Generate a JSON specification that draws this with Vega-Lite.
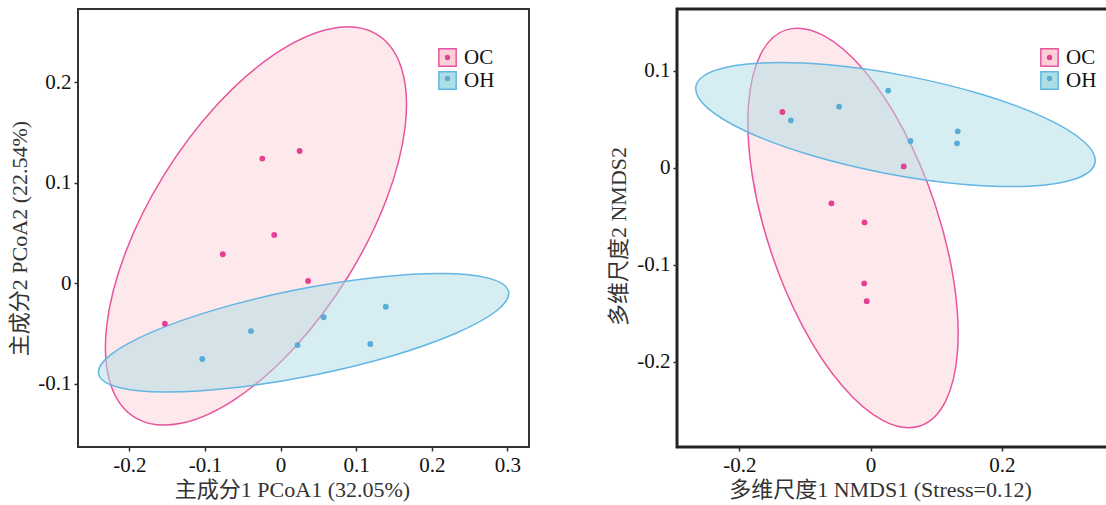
{
  "$schema": "https://vega.github.io/schema/vega-lite/v6.json",
  "background": "white",
  "padding": {"left": 7, "top": 7, "right": 0, "bottom": 0},
  "spacing": 76,
  "config": {
    "font": "Liberation Serif, Noto Sans CJK SC",
    "view": {"stroke": "#333333", "strokeWidth": 2},
    "axis": {
      "grid": false, "domain": false, "ticks": true, "tickSize": 4, "tickWidth": 1.5, "tickColor": "#333333",
      "labelFont": "Liberation Serif", "labelFontSize": 21, "labelColor": "#111111", "labelPadding": 3,
      "titleFont": "Liberation Serif, Noto Sans CJK SC", "titleFontSize": 22, "titleFontWeight": "normal", "titleColor": "#333333"
    }
  },
  "datasets": {
    "pcoa_pts": [
      {"group": "OC", "x": -0.0242, "y": 0.124},
      {"group": "OC", "x": 0.0252, "y": 0.1316},
      {"group": "OC", "x": -0.0084, "y": 0.0481},
      {"group": "OC", "x": -0.0765, "y": 0.0289},
      {"group": "OC", "x": 0.0364, "y": 0.0023},
      {"group": "OC", "x": -0.1531, "y": -0.0402},
      {"group": "OH", "x": -0.1036, "y": -0.0753},
      {"group": "OH", "x": -0.0392, "y": -0.0475},
      {"group": "OH", "x": 0.0224, "y": -0.0614},
      {"group": "OH", "x": 0.057, "y": -0.0338},
      {"group": "OH", "x": 0.1392, "y": -0.0233},
      {"group": "OH", "x": 0.1186, "y": -0.0604}
    ],
    "pcoa_ell": [
      {"group": "OC", "i": 0, "x": 0.125, "y": 0.2485},
      {"group": "OC", "i": 1, "x": 0.0664, "y": 0.2532},
      {"group": "OC", "i": 2, "x": -0.0073, "y": 0.2281},
      {"group": "OC", "i": 3, "x": -0.0847, "y": 0.177},
      {"group": "OC", "i": 4, "x": -0.1543, "y": 0.1075},
      {"group": "OC", "i": 5, "x": -0.2053, "y": 0.0304},
      {"group": "OC", "i": 6, "x": -0.2301, "y": -0.0427},
      {"group": "OC", "i": 7, "x": -0.2248, "y": -0.1006},
      {"group": "OC", "i": 8, "x": -0.1902, "y": -0.1345},
      {"group": "OC", "i": 9, "x": -0.1316, "y": -0.1392},
      {"group": "OC", "i": 10, "x": -0.0579, "y": -0.1141},
      {"group": "OC", "i": 11, "x": 0.0195, "y": -0.063},
      {"group": "OC", "i": 12, "x": 0.0891, "y": 0.0065},
      {"group": "OC", "i": 13, "x": 0.1401, "y": 0.0836},
      {"group": "OC", "i": 14, "x": 0.1649, "y": 0.1567},
      {"group": "OC", "i": 15, "x": 0.1596, "y": 0.2146},
      {"group": "OH", "i": 0, "x": 0.3015, "y": -0.0081},
      {"group": "OH", "i": 1, "x": 0.276, "y": 0.0049},
      {"group": "OH", "i": 2, "x": 0.2131, "y": 0.0097},
      {"group": "OH", "i": 3, "x": 0.1225, "y": 0.0055},
      {"group": "OH", "i": 4, "x": 0.0177, "y": -0.007},
      {"group": "OH", "i": 5, "x": -0.0851, "y": -0.0259},
      {"group": "OH", "i": 6, "x": -0.1703, "y": -0.0485},
      {"group": "OH", "i": 7, "x": -0.225, "y": -0.0711},
      {"group": "OH", "i": 8, "x": -0.2407, "y": -0.0903},
      {"group": "OH", "i": 9, "x": -0.2152, "y": -0.1033},
      {"group": "OH", "i": 10, "x": -0.1523, "y": -0.1081},
      {"group": "OH", "i": 11, "x": -0.0617, "y": -0.1039},
      {"group": "OH", "i": 12, "x": 0.0431, "y": -0.0914},
      {"group": "OH", "i": 13, "x": 0.1459, "y": -0.0725},
      {"group": "OH", "i": 14, "x": 0.2311, "y": -0.0499},
      {"group": "OH", "i": 15, "x": 0.2858, "y": -0.0273}
    ],
    "nmds_pts": [
      {"group": "OC", "x": -0.1344, "y": 0.0574},
      {"group": "OC", "x": 0.0505, "y": 0.0013},
      {"group": "OC", "x": -0.0597, "y": -0.0368},
      {"group": "OC", "x": -0.0092, "y": -0.0565},
      {"group": "OC", "x": -0.0097, "y": -0.1194},
      {"group": "OC", "x": -0.0059, "y": -0.1377},
      {"group": "OH", "x": -0.1215, "y": 0.0488},
      {"group": "OH", "x": -0.0479, "y": 0.0629},
      {"group": "OH", "x": 0.0269, "y": 0.0795},
      {"group": "OH", "x": 0.0608, "y": 0.0275},
      {"group": "OH", "x": 0.1328, "y": 0.0375},
      {"group": "OH", "x": 0.1317, "y": 0.0251}
    ],
    "nmds_ell": [
      {"group": "OC", "i": 0, "x": -0.1274, "y": 0.1424},
      {"group": "OC", "i": 1, "x": -0.1674, "y": 0.1172},
      {"group": "OC", "i": 2, "x": -0.1861, "y": 0.0648},
      {"group": "OC", "i": 3, "x": -0.1805, "y": -0.0071},
      {"group": "OC", "i": 4, "x": -0.1515, "y": -0.0873},
      {"group": "OC", "i": 5, "x": -0.1035, "y": -0.1637},
      {"group": "OC", "i": 6, "x": -0.0439, "y": -0.2246},
      {"group": "OC", "i": 7, "x": 0.0184, "y": -0.2608},
      {"group": "OC", "i": 8, "x": 0.0738, "y": -0.2668},
      {"group": "OC", "i": 9, "x": 0.1138, "y": -0.2416},
      {"group": "OC", "i": 10, "x": 0.1325, "y": -0.1892},
      {"group": "OC", "i": 11, "x": 0.1269, "y": -0.1173},
      {"group": "OC", "i": 12, "x": 0.0979, "y": -0.0371},
      {"group": "OC", "i": 13, "x": 0.0499, "y": 0.0393},
      {"group": "OC", "i": 14, "x": -0.0097, "y": 0.1002},
      {"group": "OC", "i": 15, "x": -0.072, "y": 0.1364},
      {"group": "OH", "i": 0, "x": 0.3419, "y": 0.0048},
      {"group": "OH", "i": 1, "x": 0.3249, "y": 0.027},
      {"group": "OH", "i": 2, "x": 0.2642, "y": 0.0519},
      {"group": "OH", "i": 3, "x": 0.169, "y": 0.0757},
      {"group": "OH", "i": 4, "x": 0.0539, "y": 0.0947},
      {"group": "OH", "i": 5, "x": -0.0636, "y": 0.1061},
      {"group": "OH", "i": 6, "x": -0.1658, "y": 0.1081},
      {"group": "OH", "i": 7, "x": -0.2369, "y": 0.1004},
      {"group": "OH", "i": 8, "x": -0.2661, "y": 0.0842},
      {"group": "OH", "i": 9, "x": -0.2491, "y": 0.062},
      {"group": "OH", "i": 10, "x": -0.1884, "y": 0.0371},
      {"group": "OH", "i": 11, "x": -0.0932, "y": 0.0133},
      {"group": "OH", "i": 12, "x": 0.0219, "y": -0.0057},
      {"group": "OH", "i": 13, "x": 0.1394, "y": -0.0171},
      {"group": "OH", "i": 14, "x": 0.2416, "y": -0.0191},
      {"group": "OH", "i": 15, "x": 0.3127, "y": -0.0114}
    ]
  },
  "hconcat": [
    {
      "width": 451,
      "height": 438,
      "layer": [
        {
          "data": {"name": "pcoa_ell"},
          "mark": {"type": "line", "interpolate": "cardinal-closed", "strokeWidth": 1.5, "fillOpacity": 0.5},
          "encoding": {
            "x": {"field": "x", "type": "quantitative", "scale": {"domain": [-0.268, 0.3286], "nice": false, "zero": false},
              "axis": {"values": [-0.2, -0.1, 0, 0.1, 0.2, 0.3], "labelExpr": "toString(datum.value)", "title": "主成分1 PCoA1 (32.05%)", "titleX": 214, "titlePadding": 4}},
            "y": {"field": "y", "type": "quantitative", "scale": {"domain": [-0.1628, 0.2728], "nice": false, "zero": false},
              "axis": {"values": [-0.1, 0, 0.1, 0.2], "labelExpr": "toString(datum.value)", "title": "主成分2 PCoA2 (22.54%)", "titleY": 229, "titlePadding": 6}},
            "order": {"field": "i", "type": "quantitative"},
            "fill": {"field": "group", "type": "nominal", "scale": {"range": ["#fbd1d7", "#addde5"]},
              "legend": {"orient": "none", "legendX": 359, "legendY": 38, "title": null, "symbolType": "square", "symbolSize": 300, "symbolStrokeWidth": 1.5, "labelFont": "Liberation Serif", "labelFontSize": 21, "labelColor": "#111111", "labelOffset": 6, "rowPadding": -6}},
            "stroke": {"field": "group", "type": "nominal", "scale": {"range": ["#e8559f", "#63b6e3"]},
              "legend": {"orient": "none", "legendX": 359, "legendY": 38, "title": null, "symbolType": "square", "symbolSize": 300, "symbolStrokeWidth": 1.5, "labelFont": "Liberation Serif", "labelFontSize": 21, "labelColor": "#111111", "labelOffset": 6, "rowPadding": -6}}
          }
        },
        {
          "data": {"name": "pcoa_pts"},
          "mark": {"type": "circle", "size": 34, "opacity": 1},
          "encoding": {
            "x": {"field": "x", "type": "quantitative"},
            "y": {"field": "y", "type": "quantitative"},
            "color": {"field": "group", "type": "nominal", "scale": {"domain": ["OC", "OH"], "range": ["#e44091", "#58acd6"]},
              "legend": {"orient": "none", "legendX": 359, "legendY": 38, "title": null, "symbolType": "circle", "symbolSize": 28, "labelFont": "Liberation Serif", "labelFontSize": 21, "labelExpr": "''", "rowPadding": -6}}
          }
        }
      ]
    },
    {
      "width": 440,
      "height": 438,
      "view": {"stroke": "#222222", "strokeWidth": 3},
      "layer": [
        {
          "data": {"name": "nmds_ell"},
          "mark": {"type": "line", "interpolate": "cardinal-closed", "strokeWidth": 1.5, "fillOpacity": 0.5},
          "encoding": {
            "x": {"field": "x", "type": "quantitative", "scale": {"domain": [-0.295, 0.3755], "nice": false, "zero": false},
              "axis": {"values": [-0.2, 0, 0.2], "labelExpr": "toString(datum.value)", "title": "多维尺度1 NMDS1 (Stress=0.12)", "titleX": 203, "titlePadding": 4}},
            "y": {"field": "y", "type": "quantitative", "scale": {"domain": [-0.2882, 0.1637], "nice": false, "zero": false},
              "axis": {"values": [-0.2, -0.1, 0, 0.1], "labelExpr": "toString(datum.value)", "title": "多维尺度2 NMDS2", "titleY": 227, "titlePadding": 6}},
            "order": {"field": "i", "type": "quantitative"},
            "fill": {"field": "group", "type": "nominal", "scale": {"range": ["#fbd1d7", "#addde5"]},
              "legend": {"orient": "none", "legendX": 362, "legendY": 38, "title": null, "symbolType": "square", "symbolSize": 300, "symbolStrokeWidth": 1.5, "labelFont": "Liberation Serif", "labelFontSize": 21, "labelColor": "#111111", "labelOffset": 6, "rowPadding": -6}},
            "stroke": {"field": "group", "type": "nominal", "scale": {"range": ["#e8559f", "#63b6e3"]},
              "legend": {"orient": "none", "legendX": 362, "legendY": 38, "title": null, "symbolType": "square", "symbolSize": 300, "symbolStrokeWidth": 1.5, "labelFont": "Liberation Serif", "labelFontSize": 21, "labelColor": "#111111", "labelOffset": 6, "rowPadding": -6}}
          }
        },
        {
          "data": {"name": "nmds_pts"},
          "mark": {"type": "circle", "size": 34, "opacity": 1},
          "encoding": {
            "x": {"field": "x", "type": "quantitative"},
            "y": {"field": "y", "type": "quantitative"},
            "color": {"field": "group", "type": "nominal", "scale": {"domain": ["OC", "OH"], "range": ["#e44091", "#58acd6"]},
              "legend": {"orient": "none", "legendX": 362, "legendY": 38, "title": null, "symbolType": "circle", "symbolSize": 28, "labelFont": "Liberation Serif", "labelFontSize": 21, "labelExpr": "''", "rowPadding": -6}}
          }
        }
      ]
    }
  ],
  "resolve": {
    "scale": {"color": "independent", "fill": "independent", "stroke": "independent"},
    "legend": {"color": "independent", "fill": "independent", "stroke": "independent"}
  }
}
